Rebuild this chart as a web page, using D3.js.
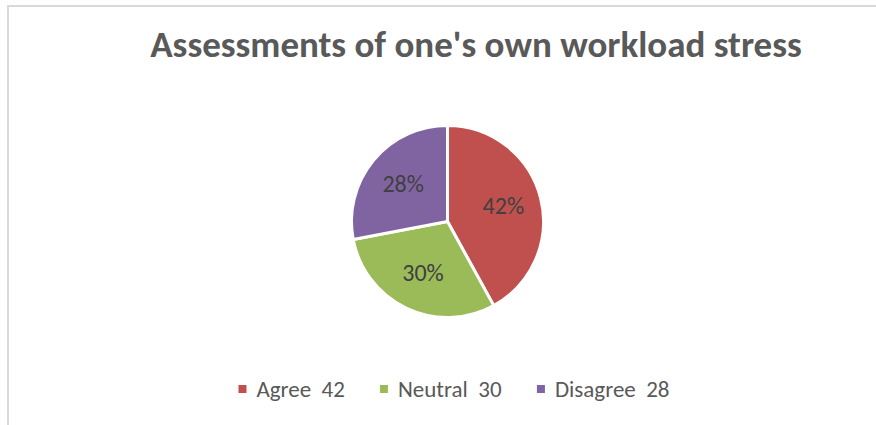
<!DOCTYPE html>
<html>
<head>
<meta charset="utf-8">
<script src="https://cdn.jsdelivr.net/npm/d3@7"></script>
<style>
  html, body { margin: 0; padding: 0; background: #fff; }
  svg { display: block; }
</style>
</head>
<body>
<svg id="chart" width="876" height="425"></svg>
<script>
// Survey answers on workload stress
const categories = ["Agree", "Neutral", "Disagree"];
const values = [42, 30, 28];
const colors = ["#C0504D", "#9BBB59", "#8064A2"];
const title = "Assessments of one's own workload stress";

const svg = d3.select("#chart");
const W = 876, H = 425;
const fontFamily = "Carlito, 'Liberation Sans Narrow', Lato, 'Open Sans', sans-serif";

// chart frame
svg.append("path")
  .attr("d", `M8,${H} L8,6 L${W},6`)
  .attr("fill", "none")
  .attr("stroke", "#d9d9d9")
  .attr("stroke-width", 2);

// title
svg.append("text")
  .attr("x", 476)
  .attr("y", 57)
  .attr("text-anchor", "middle")
  .attr("font-family", fontFamily)
  .attr("font-weight", "bold")
  .attr("font-size", 37)
  .attr("fill", "#595959")
  .text(title);

// pie
const cx = 447.5, cy = 221.5, r = 96;
const total = d3.sum(values);
const pie = d3.pie().sort(null).value(d => d.value);
const arcs = pie(categories.map((c, i) => ({ name: c, value: values[i], color: colors[i] })));
const arc = d3.arc().innerRadius(0).outerRadius(r);
const labelArc = d3.arc().innerRadius(r * 0.6).outerRadius(r * 0.6);

const g = svg.append("g").attr("transform", `translate(${cx},${cy})`);
g.selectAll("path.slice")
  .data(arcs)
  .join("path")
  .attr("class", "slice")
  .attr("d", arc)
  .attr("fill", d => d.data.color)
  .attr("stroke", "#fff")
  .attr("stroke-width", 3)
  .attr("stroke-linejoin", "miter");

g.selectAll("text.pct")
  .data(arcs)
  .join("text")
  .attr("class", "pct")
  .attr("transform", d => {
    const [x, y] = labelArc.centroid(d);
    return `translate(${x},${y})`;
  })
  .attr("text-anchor", "middle")
  .attr("dy", "0.3em")
  .attr("font-family", fontFamily)
  .attr("font-size", 24)
  .attr("fill", "#404040")
  .text(d => Math.round(d.data.value / total * 100) + "%");

// legend
const legend = svg.append("g").attr("transform", "translate(0,397)");
const items = legend.selectAll("g.item")
  .data(categories.map((c, i) => ({ name: c, value: values[i], color: colors[i] })))
  .join("g")
  .attr("class", "item");
items.append("rect")
  .attr("y", -12)
  .attr("width", 8)
  .attr("height", 8)
  .attr("fill", d => d.color);
items.append("text")
  .attr("x", 18)
  .attr("font-family", fontFamily)
  .attr("font-size", 23)
  .attr("fill", "#595959")
  .attr("xml:space", "preserve")
  .style("white-space", "pre")
  .text(d => `${d.name}  ${d.value}`);

// lay legend items out in one centred row
const gap = 35;
const widths = [];
items.each(function () { widths.push(this.getBBox().width); });
const totalW = d3.sum(widths) + gap * (widths.length - 1);
let x = 454 - totalW / 2;
items.attr("transform", (d, i) => {
  const t = `translate(${x},0)`;
  x += widths[i] + gap;
  return t;
});
</script>
</body>
</html>
